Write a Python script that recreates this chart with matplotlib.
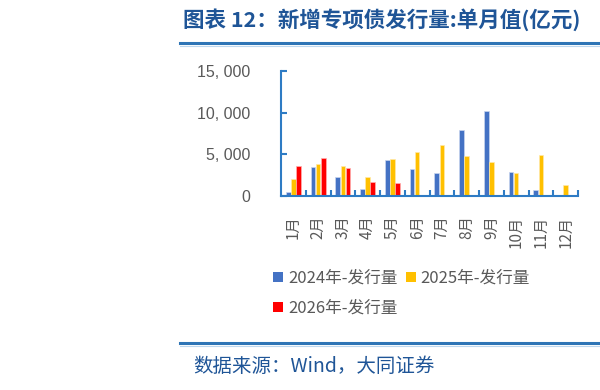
import matplotlib.pyplot as plt
from matplotlib.patches import Patch
from matplotlib.lines import Line2D
import numpy as np

plt.rcParams['font.family'] = ['Noto Sans CJK SC', 'DejaVu Sans']

months = ["1月", "2月", "3月", "4月", "5月", "6月", "7月", "8月", "9月", "10月", "11月", "12月"]
issue_2024 = [480, 3440, 2280, 840, 4360, 3280, 2760, 7920, 10260, 2920, 760, 120]
issue_2025 = [2000, 3880, 3640, 2240, 4400, 5280, 6160, 4840, 4080, 2800, 4920, 1320]
issue_2026 = [3640, 4560, 3360, 1720, 1560]
series_names = ["2024年-发行量", "2025年-发行量", "2026年-发行量"]
colors = ["#4472C4", "#FFC000", "#FF0000"]
y_ticks = [0, 5000, 10000, 15000]

title_color = "#1F5597"
axis_color = "#2E7BC4"
label_color = "#595959"

fig = plt.figure(figsize=(6, 3.9), dpi=100)
ax = fig.add_axes([281 / 600, 1 - 196 / 390, (578 - 281) / 600, (196 - 71) / 390])

x = np.arange(len(months))
w = 0.19
ax.bar(x - 0.21, issue_2024, width=w, color=colors[0], edgecolor="#C9D6EE", linewidth=0.5)
ax.bar(x, issue_2025, width=w, color=colors[1], edgecolor="#FFE9A8", linewidth=0.5)
ax.bar(np.arange(len(issue_2026)) + 0.21, issue_2026, width=w, color=colors[2],
       edgecolor="#FFB0B0", linewidth=0.5)

ax.set_xlim(-0.5, 11.5)
ax.set_ylim(0, 15000)
for s in ["top", "right"]:
    ax.spines[s].set_visible(False)
for s in ["left", "bottom"]:
    ax.spines[s].set_color(axis_color)
    ax.spines[s].set_linewidth(1.5)

ax.set_yticks(y_ticks)
ax.set_yticklabels([f"{v:,}".replace(",", ", ") for v in y_ticks],
                   fontsize=11.5, color=label_color, family=["Liberation Sans", "DejaVu Sans"])
ax.tick_params(axis="y", direction="in", length=4, width=1.5, color=axis_color, pad=22)

ax.set_xticks(x)
ax.set_xticklabels(months, rotation=90, fontsize=11, color=label_color, va="top")
ax.tick_params(axis="x", length=0, pad=14)
ax.set_xticks(np.arange(len(months)) + 0.5, minor=True)
ax.tick_params(axis="x", which="minor", direction="in", length=4, width=1.5, color=axis_color)

handles = [Patch(facecolor=c, edgecolor="none") for c in colors]
fig.legend(handles[:2], series_names[:2], loc="upper left", bbox_to_anchor=(258 / 600, 1 - 255 / 390),
           ncol=2, frameon=False, fontsize=12, handlelength=0.6, handleheight=0.6,
           handletextpad=0.3, columnspacing=0.5, labelcolor=label_color)
fig.legend(handles[2:], series_names[2:], loc="upper left", bbox_to_anchor=(258 / 600, 1 - 285 / 390),
           frameon=False, fontsize=12, handlelength=0.6, handleheight=0.6,
           handletextpad=0.3, labelcolor=label_color)

fig.text(183 / 600, 1 - 20 / 390, "图表 12：新增专项债发行量:单月值(亿元)", fontsize=15.5,
         fontweight="bold", color=title_color, va="center", ha="left")
fig.add_artist(Line2D([180 / 600, 1], [1 - 43 / 390] * 2, color="#2E75B6", linewidth=2.2))
fig.add_artist(Line2D([180 / 600, 1], [1 - 46 / 390] * 2, color="#BDD7EE", linewidth=0.8))
fig.add_artist(Line2D([180 / 600, 1], [1 - 343 / 390] * 2, color="#2E75B6", linewidth=2.2))
fig.add_artist(Line2D([180 / 600, 1], [1 - 346 / 390] * 2, color="#BDD7EE", linewidth=0.8))
fig.text(193 / 600, 1 - 366 / 390, "数据来源：Wind，大同证券", fontsize=14,
         color=title_color, va="center", ha="left")

fig.savefig("out.png", dpi=100)
